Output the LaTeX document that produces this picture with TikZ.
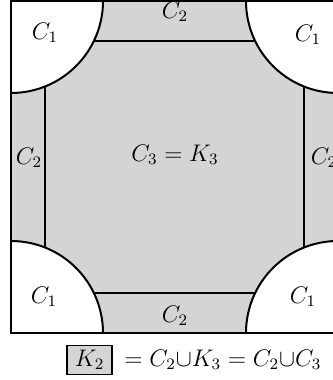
\documentclass[tikz,border=0pt]{standalone}
\usepackage{amsmath, amssymb}
\usetikzlibrary{positioning}
\definecolor{regiongray}{HTML}{D3D4D6}

\begin{document}
\begin{tikzpicture}[x=0.5pt, y=0.5pt,
        edge/.style={draw=black, line width=1pt},
        seam/.style={draw=black, line width=0.75pt},
        lbl/.style={font=\large, inner sep=0}]
        \useasboundingbox (0,0) rectangle (332,380);
        % regions
        \fill[regiongray] (11,47) rectangle (338,379);
        \fill[white] (11,379) -- (103,379) arc[start angle=0, end angle=-90, radius=92] -- cycle;
        \fill[white] (338,379) -- (338,287) arc[start angle=-90, end angle=-180, radius=92] -- cycle;
        \fill[white] (11,47) -- (11,139) arc[start angle=90, end angle=0, radius=92] -- cycle;
        \fill[white] (338,47) -- (246,47) arc[start angle=180, end angle=90, radius=92] -- cycle;
        % boundaries
        \draw[seam] (93.85,339) -- (255.15,339);
        \draw[seam] (93.85,87) -- (255.15,87);
        \draw[seam] (45,293.5) -- (45,132.5);
        \draw[seam] (304,293.5) -- (304,132.5);
        \draw[edge] (103,379) arc[start angle=0, end angle=-90, radius=92];
        \draw[edge] (338,287) arc[start angle=-90, end angle=-180, radius=92];
        \draw[edge] (11,139) arc[start angle=90, end angle=0, radius=92];
        \draw[edge] (246,47) arc[start angle=180, end angle=90, radius=92];
        \draw[edge] (11,47) rectangle (338,379);
        % labels
        \node[lbl] (c1a) at (45,347)  {$C_1$};
        \node[lbl] (c1b) at (308,345) {$C_1$};
        \node[lbl] (c1c) at (44,83)   {$C_1$};
        \node[lbl] (c1d) at (303,83)  {$C_1$};
        \node[lbl] (c2a) at (175,368) {$C_2$};
        \node[lbl] (c2b) at (175,64)  {$C_2$};
        \node[lbl] (c2c) at (29,222)  {$C_2$};
        \node[lbl] (c2d) at (324,222) {$C_2$};
        \node[lbl] (c3)  at (175,225) {$C_3 = K_3$};
        \node[lbl, draw, fill=regiongray, line width=0.8pt, inner xsep=4pt, inner ysep=2.2pt,
              anchor=west] (k2) at (66,20) {$K_2$};
        \node[lbl, font=\fontsize{11.6}{14}\selectfont, base right=5.5pt of k2] (eq)
              {$= C_2{\cup}K_3 = C_2{\cup}C_3$};
      \end{tikzpicture}
\end{document}
